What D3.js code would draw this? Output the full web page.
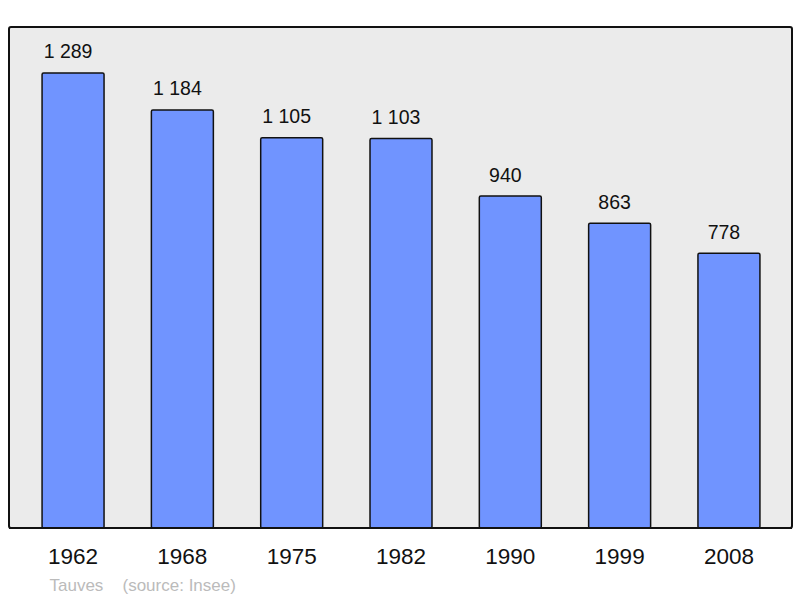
<!DOCTYPE html>
<html><head><meta charset="utf-8">
<script src="https://cdn.jsdelivr.net/npm/d3@7"></script>
<style>body{margin:0;background:#fff}svg{display:block}</style>
</head><body>
<script>
const years = ["1962","1968","1975","1982","1990","1999","2008"];
const population = [1289,1184,1105,1103,940,863,778];
const valueLabels = ["1 289","1 184","1 105","1 103","940","863","778"];
const sourceText = ["Tauves","(source: Insee)"];

const W=800,H=598;
const svg=d3.select("body").append("svg").attr("width",W).attr("height",H);
const frame={x:9,y:27,w:783,h:501};
svg.append("rect").attr("x",frame.x).attr("y",frame.y).attr("width",frame.w).attr("height",frame.h)
  .attr("rx",2).attr("fill","#ebebeb").attr("stroke","#111").attr("stroke-width",2);

const x=d3.scaleBand().domain(years).range([18.4,783.6]).paddingInner(0.433).paddingOuter(0.2165);
const y=d3.scaleLinear().domain([0,1419]).range([528,27]);

svg.selectAll("rect.bar").data(population).enter().append("rect").attr("class","bar")
  .attr("x",(d,i)=>x(years[i])).attr("y",d=>y(d)).attr("width",x.bandwidth()).attr("height",d=>528-y(d))
  .attr("rx",1.5).attr("fill","#7094ff").attr("stroke","#111").attr("stroke-width",1.5);

svg.append("line").attr("x1",frame.x).attr("x2",frame.x+frame.w).attr("y1",528).attr("y2",528)
  .attr("stroke","#111").attr("stroke-width",2);

svg.selectAll("text.val").data(population).enter().append("text").attr("class","val")
  .attr("x",(d,i)=>x(years[i])+x.bandwidth()/2-5).attr("y",d=>y(d)-14.5)
  .attr("text-anchor","middle").attr("font-family","Liberation Sans, Arial, sans-serif").attr("font-size",19.5)
  .attr("fill","#111").text((d,i)=>valueLabels[i]);

svg.selectAll("text.year").data(years).enter().append("text").attr("class","year")
  .attr("x",d=>x(d)+x.bandwidth()/2).attr("y",564)
  .attr("text-anchor","middle").attr("font-family","Liberation Sans, Arial, sans-serif").attr("font-size",22.5)
  .attr("fill","#111").text(d=>d);

svg.append("text").attr("x",49.5).attr("y",591).attr("font-family","Liberation Sans, Arial, sans-serif")
  .attr("font-size",17).attr("fill","#bbb").text(sourceText[0]);
svg.append("text").attr("x",122.5).attr("y",591).attr("font-family","Liberation Sans, Arial, sans-serif")
  .attr("font-size",17).attr("fill","#bbb").text(sourceText[1]);
</script>
</body></html>
